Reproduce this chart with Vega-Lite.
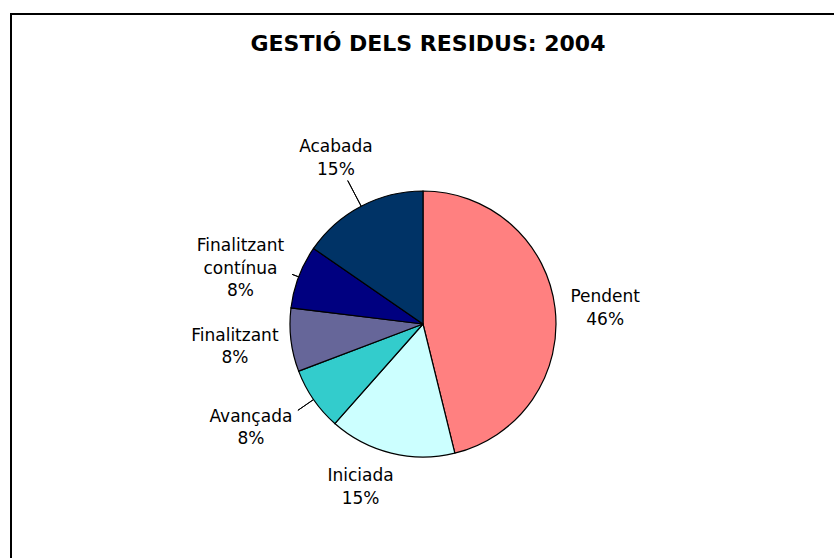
{
  "$schema": "https://vega.github.io/schema/vega-lite/v6.json",
  "width": 824,
  "height": 620,
  "autosize": {"type": "none"},
  "padding": {"left": 11, "top": 14, "right": 0, "bottom": 0},
  "background": "white",
  "view": {"stroke": "#000", "strokeWidth": 2, "fill": "white"},
  "title": {
    "text": "GESTIÓ DELS RESIDUS: 2004",
    "font": "DejaVu Sans",
    "fontSize": 22,
    "fontWeight": "bold",
    "color": "#000",
    "anchor": "middle",
    "frame": "group",
    "orient": "top",
    "offset": -42,
    "dx": 5
  },
  "data": {
    "values": [
      {"ord": 1, "category": "Pendent", "value": 6, "label": "Pendent\n46%"},
      {"ord": 2, "category": "Iniciada", "value": 2, "label": "Iniciada\n15%"},
      {"ord": 3, "category": "Avançada", "value": 1, "label": "Avançada\n8%"},
      {"ord": 4, "category": "Finalitzant", "value": 1, "label": "Finalitzant\n8%"},
      {"ord": 5, "category": "Finalitzant contínua", "value": 1, "label": "Finalitzant\ncontínua\n8%"},
      {"ord": 6, "category": "Acabada", "value": 2, "label": "Acabada\n15%"}
    ]
  },
  "encoding": {
    "theta": {"field": "value", "type": "quantitative", "stack": true},
    "order": {"field": "ord", "type": "ordinal"}
  },
  "layer": [
    {
      "mark": {"type": "arc", "outerRadius": 133, "stroke": "#000", "strokeWidth": 1.2},
      "encoding": {
        "color": {
          "field": "category",
          "type": "nominal",
          "scale": {
            "domain": ["Pendent", "Iniciada", "Avançada", "Finalitzant", "Finalitzant contínua", "Acabada"],
            "range": ["#FF8080", "#CCFFFF", "#33CCCC", "#666699", "#000080", "#003366"]
          },
          "legend": null
        }
      }
    },
    {
      "mark": {"type": "arc", "innerRadius": 133, "outerRadius": 162, "padAngle": 3, "fillOpacity": 0, "strokeWidth": 1},
      "encoding": {"stroke": {"condition": {"test": "datum.ord === 6", "value": "#000"}, "value": "transparent"}}
    },
    {
      "mark": {"type": "arc", "innerRadius": 133, "outerRadius": 152, "padAngle": 3, "fillOpacity": 0, "strokeWidth": 1},
      "encoding": {"stroke": {"condition": {"test": "datum.ord === 3", "value": "#000"}, "value": "transparent"}}
    },
    {
      "mark": {"type": "arc", "innerRadius": 133, "outerRadius": 140, "padAngle": 3, "fillOpacity": 0, "strokeWidth": 1},
      "encoding": {"stroke": {"condition": {"test": "datum.ord === 5", "value": "#000"}, "value": "transparent"}}
    },
    {
      "mark": {"type": "text", "radius": 182.5, "dx": 1, "dy": -5, "font": "DejaVu Sans", "fontSize": 17, "lineBreak": "\n", "lineHeight": 22.5, "align": "center", "baseline": "middle", "color": "#000"},
      "encoding": {"text": {"condition": {"test": "datum.ord === 1", "field": "label"}, "value": ""}}
    },
    {
      "mark": {"type": "text", "radius": 173.3, "dx": -21, "dy": -16, "font": "DejaVu Sans", "fontSize": 17, "lineBreak": "\n", "lineHeight": 22.5, "align": "center", "baseline": "middle", "color": "#000"},
      "encoding": {"text": {"condition": {"test": "datum.ord === 2", "field": "label"}, "value": ""}}
    },
    {
      "mark": {"type": "text", "radius": 200.6, "dx": -7, "dy": -21, "font": "DejaVu Sans", "fontSize": 17, "lineBreak": "\n", "lineHeight": 22.5, "align": "center", "baseline": "middle", "color": "#000"},
      "encoding": {"text": {"condition": {"test": "datum.ord === 3", "field": "label"}, "value": ""}}
    },
    {
      "mark": {"type": "text", "radius": 189.5, "dy": -11, "font": "DejaVu Sans", "fontSize": 17, "lineBreak": "\n", "lineHeight": 22.5, "align": "center", "baseline": "middle", "color": "#000"},
      "encoding": {"text": {"condition": {"test": "datum.ord === 4", "field": "label"}, "value": ""}}
    },
    {
      "mark": {"type": "text", "radius": 191, "dx": -4, "dy": -10, "font": "DejaVu Sans", "fontSize": 17, "lineBreak": "\n", "lineHeight": 22.5, "align": "center", "baseline": "middle", "color": "#000"},
      "encoding": {"text": {"condition": {"test": "datum.ord === 5", "field": "label"}, "value": ""}}
    },
    {
      "mark": {"type": "text", "radius": 187.4, "dy": -11, "font": "DejaVu Sans", "fontSize": 17, "lineBreak": "\n", "lineHeight": 22.5, "align": "center", "baseline": "middle", "color": "#000"},
      "encoding": {"text": {"condition": {"test": "datum.ord === 6", "field": "label"}, "value": ""}}
    }
  ]
}
